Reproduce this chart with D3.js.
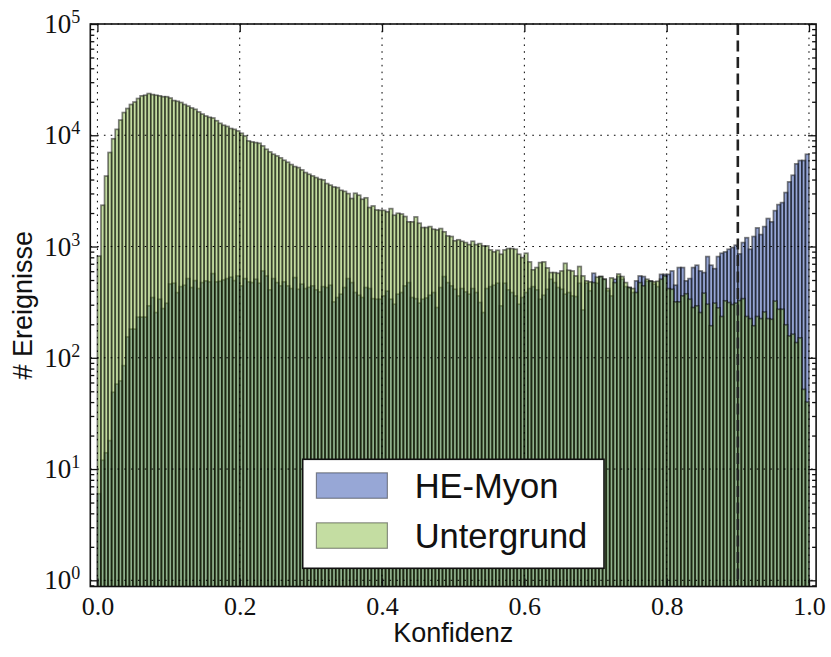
<!DOCTYPE html>
<html>
<head>
<meta charset="utf-8">
<script src="https://cdn.jsdelivr.net/npm/d3@7"></script>
<style>
  body { margin: 0; background: #fff; }
  svg { display: block; }
</style>
</head>
<body>
<svg id="chart" width="831" height="657"></svg>
<script>
// Histogram binning: 200 bins of width 0.005 on [0, 1]
const binStart = 0;
const binWidth = 0.005;

// Counts per bin, signal class
const heMyon = [
  6, 12, 14, 18, 49, 58, 62, 85, 154, 181, 181, 232, 232, 232, 293, 348, 255, 336, 277, 309,
  461, 468, 385, 436, 449, 515, 428, 494, 419, 474, 491, 481, 571, 481, 487, 501, 515, 530, 494,
  544, 443, 515, 481, 474, 508, 468, 603, 544, 408, 515, 474, 443, 481, 443, 419, 526, 413, 459, 419,
  430, 443, 408, 391, 436, 428, 449, 318, 348, 373, 428, 515, 474, 386, 365, 348, 428, 419, 340, 336,
  336, 360, 397, 336, 303, 373, 386, 443, 474, 348, 340, 310, 336, 345, 365, 386, 283, 428, 537, 474,
  443, 413, 360, 419, 391, 373, 419, 386, 314, 255, 419, 436, 449, 468, 293, 468, 408, 386, 360, 303, 348,
  386, 419, 436, 408, 336, 365, 413, 508, 474, 428, 413, 373, 386, 360, 355, 468, 269, 468, 400, 575,
  468, 537, 508, 400, 360, 508, 537, 508, 436, 428, 386, 491, 544, 537, 487, 491, 459, 436, 562, 562,
  562, 603, 449, 647, 647, 491, 515, 647, 679, 603, 583, 812, 679, 632, 812, 870, 895, 945, 979, 1028,
  858, 1085, 1200, 945, 1230, 1470, 1280, 1510, 1785, 1665, 2100, 2380, 2480, 3055, 3810, 4370, 5530, 5930, 5930, 6750
];

// Counts per bin, background class
const untergrund = [
  820, 2350, 4300, 7000, 9300, 11300, 13700, 16000, 17400, 18900, 19900, 21400, 22600, 22900, 23700, 23200,
  22900, 22600, 22200, 22200, 21600, 20500, 20200, 19700, 18900, 18300, 17600, 17100, 16200, 15500, 14900,
  14500, 14300, 13500, 12800, 12300, 12000, 11500, 11300,
  10940, 10420, 9860, 8890, 8710, 8590, 8470, 8020, 7480, 7080, 6750, 6520, 6260, 5960, 5720, 5450, 5230,
  5120, 4880, 4620, 4460, 4310, 4165, 4025, 3970, 3680, 3560, 3430, 3385, 3200, 3130, 2990, 2700, 3010,
  2890, 2660, 2740, 2240, 2316, 2130,
  2115, 2115, 2050, 2190, 1910, 1990, 1960, 1860, 1665, 1665, 1845, 1620, 1480, 1480, 1510, 1430, 1410,
  1450, 1355, 1245, 1230, 1125, 1150, 1115, 1085, 1040, 1115, 1040, 1062, 1013, 1013, 932, 895, 925, 852,
  932, 958, 958, 945, 852, 795,
  870, 727, 617, 647, 717, 727, 642, 583, 583, 575, 603, 706, 612, 603, 544, 661, 544, 491, 481, 474,
  530, 537, 508, 419, 522, 474, 566, 537, 474, 428, 419, 386, 474, 443, 508, 487, 481, 487, 508, 544,
  419, 413, 318, 318, 360, 376, 336, 283, 293, 255, 381, 303, 194, 310, 281, 235, 325, 314, 301, 310,
  327, 340, 235, 225, 194, 235, 225, 258, 225, 222, 323, 273, 273, 198, 157, 163, 137, 151, 52, 40
];

const seriesNames = ["HE-Myon", "Untergrund"];
const seriesColors = ["#2f4fad", "#8abb45"];

const xTickValues = [0, 0.2, 0.4, 0.6, 0.8, 1.0];
const xTickLabels = ["0.0", "0.2", "0.4", "0.6", "0.8", "1.0"];
const yTickExponents = [0, 1, 2, 3, 4, 5];
const cutValue = 0.9;
const xLabel = "Konfidenz";
const yLabel = "# Ereignisse";

// Layout
const W = 831, H = 657;
const plot = { left: 90.3, right: 816.1, top: 24, bottom: 586.5 };

const svg = d3.select("#chart");

const x = d3.scaleLinear().domain([-0.01, 1.01]).range([plot.left, plot.right]);
const y = d3.scaleLog().domain([0.88, 1e5]).range([plot.bottom, plot.top]);

svg.append("defs").append("clipPath").attr("id", "plotClip")
  .append("rect")
  .attr("x", plot.left).attr("y", plot.top)
  .attr("width", plot.right - plot.left).attr("height", plot.bottom - plot.top);

const bars = svg.append("g").attr("clip-path", "url(#plotClip)");

function drawHist(values, color) {
  const rows = values.map((v, i) => ({ x0: binStart + i * binWidth, x1: binStart + (i + 1) * binWidth, v }));
  bars.append("g")
    .selectAll("rect")
    .data(rows)
    .join("rect")
    .attr("x", d => x(d.x0))
    .attr("width", d => x(d.x1) - x(d.x0))
    .attr("y", d => y(d.v))
    .attr("height", d => plot.bottom + 20 - y(d.v))
    .attr("fill", color)
    .attr("fill-opacity", 0.5)
    .attr("stroke", "#000")
    .attr("stroke-opacity", 0.5)
    .attr("stroke-width", 1.7);
}

drawHist(heMyon, seriesColors[0]);
drawHist(untergrund, seriesColors[1]);

// Grid (drawn over the bars)
const grid = svg.append("g")
  .attr("stroke", "#000")
  .attr("stroke-width", 1)
  .attr("stroke-dasharray", "1.6,5.2");
grid.selectAll("line.gx").data(xTickValues).join("line")
  .attr("x1", d => x(d)).attr("x2", d => x(d))
  .attr("y1", plot.top).attr("y2", plot.bottom);
grid.selectAll("line.gy").data(yTickExponents).join("line")
  .attr("y1", d => y(Math.pow(10, d))).attr("y2", d => y(Math.pow(10, d)))
  .attr("x1", plot.left).attr("x2", plot.right);

// Cut line
svg.append("line")
  .attr("x1", x(cutValue)).attr("x2", x(cutValue))
  .attr("y1", plot.top).attr("y2", plot.bottom)
  .attr("stroke", "#222")
  .attr("stroke-width", 2.6)
  .attr("stroke-dasharray", "11,5.5");

// Axes: ticks point inward on all four sides
const serif = "'Liberation Serif', 'Times New Roman', serif";
const sans = "'Liberation Sans', Arial, Helvetica, sans-serif";

function minorTicks() {
  const out = [];
  const [lo, hi] = y.domain();
  for (let e = Math.floor(Math.log10(lo)); e < Math.ceil(Math.log10(hi)); e++) {
    for (let m = 2; m <= 9; m++) {
      const v = m * Math.pow(10, e);
      if (v >= lo && v <= hi) out.push(v);
    }
  }
  return out;
}
const yMajor = yTickExponents.map(e => Math.pow(10, e));
const yMinor = minorTicks();

const axisBottom = d3.axisBottom(x).tickValues(xTickValues)
  .tickFormat((d, i) => xTickLabels[i]).tickSizeInner(-8).tickSizeOuter(0).tickPadding(14);
const axisTop = d3.axisTop(x).tickValues(xTickValues).tickFormat("").tickSizeInner(-8).tickSizeOuter(0);
const axisLeft = d3.axisLeft(y).tickValues(yMajor).tickFormat("").tickSizeInner(-8).tickSizeOuter(0);
const axisRight = d3.axisRight(y).tickValues(yMajor).tickFormat("").tickSizeInner(-8).tickSizeOuter(0);
const axisLeftMinor = d3.axisLeft(y).tickValues(yMinor).tickFormat("").tickSizeInner(-4).tickSizeOuter(0);
const axisRightMinor = d3.axisRight(y).tickValues(yMinor).tickFormat("").tickSizeInner(-4).tickSizeOuter(0);

function styleAxis(g) {
  g.select(".domain").remove();
  g.selectAll(".tick line").attr("stroke", "#111").attr("stroke-width", 1.3);
}

const gb = svg.append("g").attr("transform", `translate(0,${plot.bottom})`).call(axisBottom).call(styleAxis);
gb.selectAll(".tick text")
  .attr("font-family", serif).attr("font-size", 26).attr("fill", "#111")
  .attr("dy", "0.71em").attr("y", 10);
svg.append("g").attr("transform", `translate(0,${plot.top})`).call(axisTop).call(styleAxis);
svg.append("g").attr("transform", `translate(${plot.left},0)`).call(axisLeft).call(styleAxis);
svg.append("g").attr("transform", `translate(${plot.right},0)`).call(axisRight).call(styleAxis);
svg.append("g").attr("transform", `translate(${plot.left},0)`).call(axisLeftMinor).call(styleAxis);
svg.append("g").attr("transform", `translate(${plot.right},0)`).call(axisRightMinor).call(styleAxis);

// y tick labels as 10^n with superscripts
const yLabels = svg.append("g")
  .attr("font-family", serif).attr("fill", "#111");
yTickExponents.forEach(e => {
  const t = yLabels.append("text")
    .attr("x", plot.left - 10)
    .attr("y", y(Math.pow(10, e)) + 9)
    .attr("text-anchor", "end");
  t.append("tspan").attr("font-size", 27).text("10");
  t.append("tspan").attr("font-size", 18).attr("dy", -10).text(String(e));
});

// Frame
svg.append("rect")
  .attr("x", plot.left).attr("y", plot.top)
  .attr("width", plot.right - plot.left).attr("height", plot.bottom - plot.top)
  .attr("fill", "none").attr("stroke", "#111").attr("stroke-width", 1.6);

// Axis titles
svg.append("text")
  .attr("x", (plot.left + plot.right) / 2).attr("y", 642)
  .attr("text-anchor", "middle")
  .attr("font-family", sans).attr("font-size", 27).attr("fill", "#111")
  .text(xLabel);
svg.append("text")
  .attr("transform", `translate(32,${(plot.top + plot.bottom) / 2}) rotate(-90)`)
  .attr("text-anchor", "middle")
  .attr("font-family", sans).attr("font-size", 27).attr("fill", "#111")
  .text(yLabel);

// Legend
const legend = svg.append("g");
const lg = { x: 302.7, y: 459.3, w: 301.3, h: 109 };
legend.append("rect")
  .attr("x", lg.x).attr("y", lg.y).attr("width", lg.w).attr("height", lg.h)
  .attr("fill", "#fff").attr("stroke", "#111").attr("stroke-width", 1.6);
seriesNames.forEach((name, i) => {
  const rowY = lg.y + 13.5 + i * 50;
  legend.append("rect")
    .attr("x", lg.x + 13.7).attr("y", rowY)
    .attr("width", 71).attr("height", 25.5)
    .attr("fill", seriesColors[i]).attr("fill-opacity", 0.5)
    .attr("stroke", "#000").attr("stroke-opacity", 0.4).attr("stroke-width", 1.2);
  legend.append("text")
    .attr("x", lg.x + 112).attr("y", rowY + 25)
    .attr("font-family", sans).attr("font-size", 34.5).attr("fill", "#111")
    .text(name);
});
</script>
</body>
</html>
